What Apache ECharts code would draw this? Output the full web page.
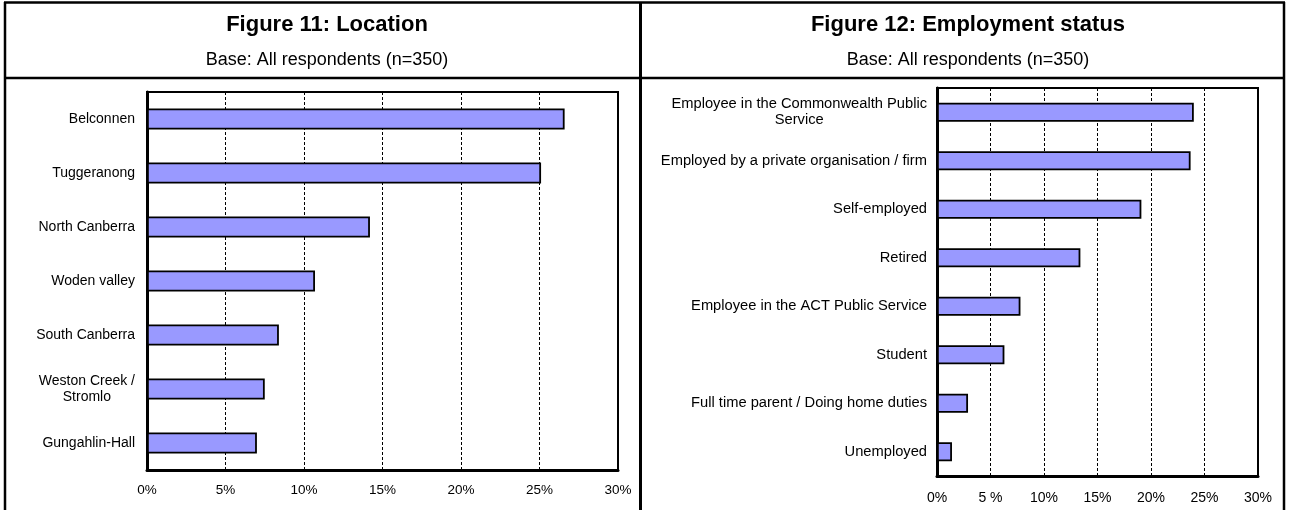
<!DOCTYPE html>
<html>
<head>
<meta charset="utf-8">
<title>Location and employment status</title>
<script src="https://cdn.jsdelivr.net/npm/echarts@6/dist/echarts.min.js"></script>
<style>
  html, body { margin: 0; padding: 0; background: #fff; }
  #chart { width: 1289px; height: 510px; }
</style>
</head>
<body>
<div id="chart"></div>
<script>
// Figure 11: where respondents live (% of all respondents)
const locationCategories = [
  'Belconnen',
  'Tuggeranong',
  'North Canberra',
  'Woden valley',
  'South Canberra',
  'Weston Creek /\nStromlo',
  'Gungahlin-Hall'
];
const locationPercent = [26.6, 25.1, 14.2, 10.7, 8.4, 7.5, 7.0];
const locationTicks = ['0%', '5%', '10%', '15%', '20%', '25%', '30%'];

// Figure 12: employment status (% of all respondents)
const employmentCategories = [
  'Employee in the Commonwealth Public\nService',
  'Employed by a private organisation / firm',
  'Self-employed',
  'Retired',
  'Employee in the ACT Public Service',
  'Student',
  'Full time parent / Doing home duties',
  'Unemployed'
];
const employmentPercent = [24.0, 23.7, 19.1, 13.4, 7.8, 6.3, 2.9, 1.4];
const employmentTicks = ['0%', '5 %', '10%', '15%', '20%', '25%', '30%'];

const titleLeft = 'Figure 11: Location';
const titleRight = 'Figure 12: Employment status';
const baseText = 'Base: All respondents (n=350)';

const FONT = '"Liberation Sans", Arial, Helvetica, sans-serif';
const BAR_FILL = '#9999ff';

// Multi-line category labels: block sits right of the axis, lines centred within it
function categoryLabel(fontSize, margin) {
  return {
    fontFamily: FONT,
    fontSize: fontSize,
    color: '#000',
    margin: margin,
    align: 'right',
    formatter: function (v) {
      return v.split('\n').map(function (l) { return '{c|' + l + '}'; }).join('\n');
    },
    rich: {
      c: { align: 'center', fontFamily: FONT, fontSize: fontSize, lineHeight: 16, color: '#000' }
    }
  };
}

function valueAxis(gridIndex, ticks, fontSize, margin) {
  return {
    type: 'value',
    gridIndex: gridIndex,
    min: 0,
    max: 30,
    interval: 5,
    axisLine: { show: true, lineStyle: { color: '#000', width: 3 } },
    axisTick: { show: false },
    axisLabel: {
      fontFamily: FONT,
      fontSize: fontSize,
      color: '#000',
      margin: margin,
      formatter: function (v) { return ticks[Math.round(v / 5)]; }
    },
    splitLine: { show: true, lineStyle: { color: '#000', width: 1, type: [3, 2] } }
  };
}

function categoryAxis(gridIndex, cats, fontSize, margin) {
  return {
    type: 'category',
    gridIndex: gridIndex,
    data: cats,
    inverse: true,
    axisLine: { show: true, onZero: false, lineStyle: { color: '#000', width: 3 } },
    axisTick: { show: false },
    axisLabel: categoryLabel(fontSize, margin),
    splitLine: { show: false }
  };
}

function barSeries(idx, values, width) {
  return {
    type: 'bar',
    xAxisIndex: idx,
    yAxisIndex: idx,
    data: values,
    barWidth: width,
    silent: true,
    itemStyle: { color: BAR_FILL, borderColor: '#000', borderWidth: 1.8 }
  };
}

const chart = echarts.init(document.getElementById('chart'), null, { renderer: 'canvas' });

const frameStyle = { stroke: '#000', lineWidth: 2.5 };

chart.setOption({
  backgroundColor: '#fff',
  animation: false,
  title: [
    { text: titleLeft, left: 322, top: 9, textAlign: 'center',
      textStyle: { fontFamily: FONT, fontSize: 22, fontWeight: 'bold', color: '#000' } },
    { text: baseText, left: 322, top: 46, textAlign: 'center',
      textStyle: { fontFamily: FONT, fontSize: 18, fontWeight: 'normal', color: '#000' } },
    { text: titleRight, left: 963, top: 9, textAlign: 'center',
      textStyle: { fontFamily: FONT, fontSize: 22, fontWeight: 'bold', color: '#000' } },
    { text: baseText, left: 963, top: 46, textAlign: 'center',
      textStyle: { fontFamily: FONT, fontSize: 18, fontWeight: 'normal', color: '#000' } }
  ],
  grid: [
    { left: 147, top: 92, width: 471, height: 378, show: true,
      borderColor: '#000', borderWidth: 2, backgroundColor: '#fff' },
    { left: 937, top: 88, width: 321, height: 388, show: true,
      borderColor: '#000', borderWidth: 2, backgroundColor: '#fff' }
  ],
  xAxis: [
    valueAxis(0, locationTicks, 13.5, 13),
    valueAxis(1, employmentTicks, 14, 15)
  ],
  yAxis: [
    categoryAxis(0, locationCategories, 14, 12),
    categoryAxis(1, employmentCategories, 14.7, 10)
  ],
  series: [
    barSeries(0, locationPercent, 21),
    barSeries(1, employmentPercent, 19)
  ],
  graphic: [
    // outer frame and the two header separators
    { type: 'line', silent: true, shape: { x1: 4, y1: 2.5, x2: 1285, y2: 2.5 }, style: frameStyle },
    { type: 'line', silent: true, shape: { x1: 5, y1: 2, x2: 5, y2: 510 }, style: frameStyle },
    { type: 'line', silent: true, shape: { x1: 1284, y1: 2, x2: 1284, y2: 510 }, style: frameStyle },
    { type: 'line', silent: true, shape: { x1: 640.5, y1: 2, x2: 640.5, y2: 510 }, style: { stroke: '#000', lineWidth: 3 } },
    { type: 'line', silent: true, shape: { x1: 4, y1: 78, x2: 1285, y2: 78 }, style: { stroke: '#000', lineWidth: 2.7 } }
  ]
});
</script>
</body>
</html>
